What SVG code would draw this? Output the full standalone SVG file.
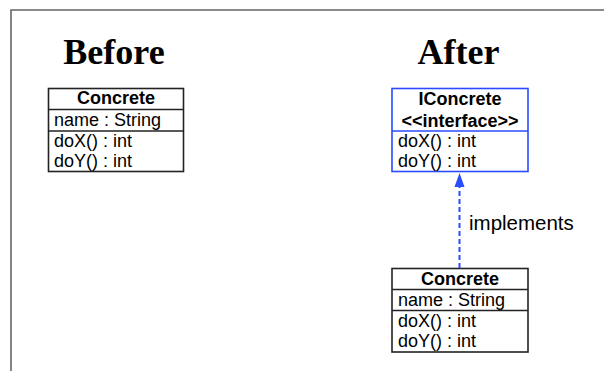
<svg xmlns="http://www.w3.org/2000/svg" width="604" height="371" viewBox="0 0 604 371">
<defs>
<style>
.frame{fill:none;stroke:#666;stroke-width:1.6}
.box{fill:#fff;stroke:#222;stroke-width:1.6}
.ibox{fill:#fff;stroke:#2a4bff;stroke-width:1.6}
.sep{stroke:#222;stroke-width:1.6}
.isep{stroke:#2a4bff;stroke-width:1.6}
.t{font-family:"Liberation Sans",Arial,sans-serif;font-size:18px;fill:#000}
.b{font-weight:bold;text-anchor:middle}
.h{font-family:"Liberation Serif","Times New Roman",serif;font-size:36px;font-weight:bold;text-anchor:middle;fill:#000}
.lbl{font-family:"Liberation Sans",Arial,sans-serif;font-size:20.5px;fill:#000}
.dash{stroke:#2a4bff;stroke-width:2;stroke-dasharray:5 3;fill:none}
.head{fill:#2a4bff}
</style>
</defs>
<path class="frame" d="M11,371 V10 H604"/>
<text class="h" x="114" y="64">Before</text>
<text class="h" x="458.5" y="64">After</text>
<g id="concrete-before">
<rect class="box" x="48.5" y="88.5" width="135" height="83"/>
<line class="sep" x1="48.5" y1="109.5" x2="183.5" y2="109.5"/>
<line class="sep" x1="48.5" y1="131" x2="183.5" y2="131"/>
<text class="t b" x="116" y="104">Concrete</text>
<text class="t" x="54" y="125.7">name : String</text>
<text class="t" x="54" y="146.7">doX() : int</text>
<text class="t" x="54" y="166.7">doY() : int</text>
</g>
<g id="iconcrete">
<rect class="ibox" x="392" y="88.5" width="136" height="83"/>
<line class="isep" x1="392" y1="131" x2="528" y2="131"/>
<text class="t b" x="460" y="104.5">IConcrete</text>
<text class="t b" x="460" y="126.5">&lt;&lt;interface&gt;&gt;</text>
<text class="t" x="398" y="146.7">doX() : int</text>
<text class="t" x="398" y="166.7">doY() : int</text>
</g>
<g id="concrete-after">
<rect class="box" x="392" y="268.5" width="136" height="83.5"/>
<line class="sep" x1="392" y1="289.5" x2="528" y2="289.5"/>
<line class="sep" x1="392" y1="310.5" x2="528" y2="310.5"/>
<text class="t b" x="460" y="284.5">Concrete</text>
<text class="t" x="398" y="305.7">name : String</text>
<text class="t" x="398" y="326.7">doX() : int</text>
<text class="t" x="398" y="346.7">doY() : int</text>
</g>
<g id="connectors">
<line class="dash" x1="459.5" y1="268" x2="459.5" y2="186"/>
<path class="head" d="M454.5,187 L459.5,173 L464.5,187 Z"/>
<text class="lbl" x="469" y="229.5">implements</text>
</g>
</svg>
